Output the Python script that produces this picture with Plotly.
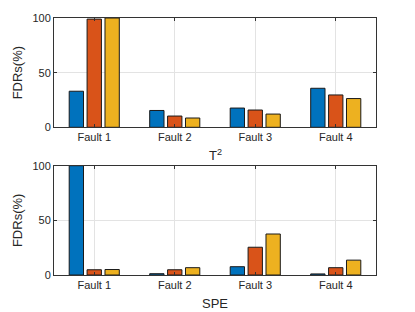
import plotly.graph_objects as go
from plotly.subplots import make_subplots

categories = ["Fault 1", "Fault 2", "Fault 3", "Fault 4"]
t2_s1 = [33, 15.4, 17.6, 35.7]
t2_s2 = [99, 10.3, 15.8, 29.6]
t2_s3 = [100, 8.5, 12.1, 26.3]
spe_s1 = [100, 1.2, 7.6, 1.0]
spe_s2 = [4.8, 4.8, 25.4, 6.7]
spe_s3 = [5.0, 6.7, 37.5, 13.6]
colors = ["#0072BD", "#D95319", "#EDB120"]
xpos = [1, 2, 3, 4]

fig = make_subplots(rows=2, cols=1, vertical_spacing=0.15)

for row, series in [(1, [t2_s1, t2_s2, t2_s3]), (2, [spe_s1, spe_s2, spe_s3])]:
    for i, vals in enumerate(series):
        fig.add_trace(go.Bar(x=xpos, y=vals, marker=dict(color=colors[i], line=dict(color="#1a1a1a", width=1)),
                             showlegend=False), row=row, col=1)

W, H = 415, 312
ml, mr, mt, mb = 54, 39, 14, 37
ph = H - mt - mb
fig.update_layout(width=W, height=H, margin=dict(l=ml, r=mr, t=mt, b=mb),
                  paper_bgcolor="white", plot_bgcolor="white", barmode="group",
                  bargap=0.333, bargroupgap=0.2,
                  font=dict(family="Liberation Sans, Arial, sans-serif", size=11, color="#262626"))

axcommon = dict(showline=True, linecolor="#333333", linewidth=1, mirror="ticks", ticks="inside", ticklen=3,
                tickcolor="#333333", showgrid=True, gridcolor="#e3e3e3", gridwidth=1, zeroline=False,
                tickfont=dict(size=11, color="#262626"))
fig.update_xaxes(**axcommon, range=[0.5, 4.5], tickvals=xpos, ticktext=categories)
fig.update_yaxes(**axcommon, range=[0, 100], tickvals=[0, 50, 100])
fig.update_yaxes(title=dict(text="FDRs(%)", font=dict(size=13, color="#262626"), standoff=6))
fig.update_layout(yaxis=dict(domain=[(H - mb - 125) / ph, 1]), yaxis2=dict(domain=[0, (H - mb - 164) / ph]))

fig.add_annotation(text="T<sup>2</sup>", xref="paper", yref="paper", x=0.5, y=(H - mb - 153) / ph,
                   showarrow=False, font=dict(size=13, color="#262626"), yanchor="middle")
fig.add_annotation(text="SPE", xref="paper", yref="paper", x=0.5, y=(H - mb - 304) / ph,
                   showarrow=False, font=dict(size=13, color="#262626"), yanchor="middle")

fig.write_html("out.html", config={"displayModeBar": False},
               post_script="document.body.style.margin='0';document.body.style.overflow='hidden';")
